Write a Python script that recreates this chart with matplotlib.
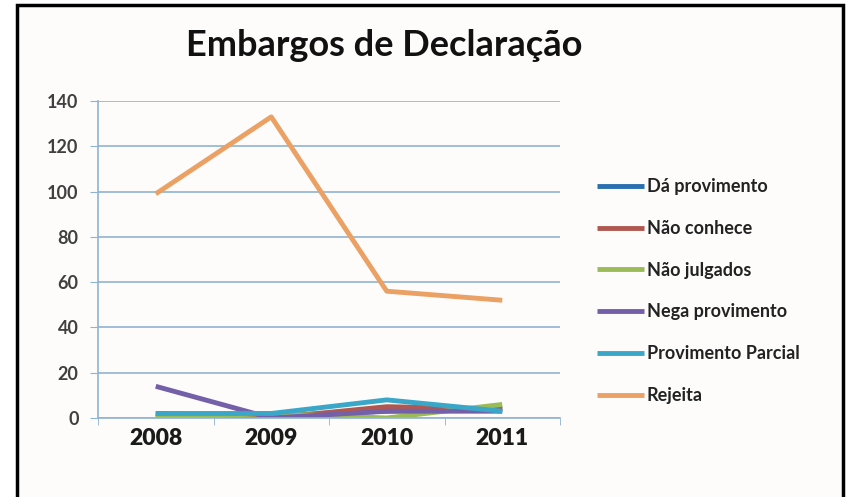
import matplotlib.pyplot as plt
from matplotlib.patches import Rectangle

# dados
anos = ["2008", "2009", "2010", "2011"]
series = ["Dá provimento", "Não conhece", "Não julgados",
          "Nega provimento", "Provimento Parcial", "Rejeita"]
da_provimento = [2, 1, 3, 4]
nao_conhece = [1, 0, 5, 4]
nao_julgados = [0, 2, 0, 6]
nega_provimento = [14, 0, 3, 3]
provimento_parcial = [2, 2, 8, 3]
rejeita = [99, 133, 56, 52]
cores = ["#2a6fb0", "#b0584f", "#9bbb59", "#7460a8", "#3aa6c8", "#eba064"]

plt.rcParams['font.family'] = ['Lato', 'DejaVu Sans']

fig = plt.figure(figsize=(8.54, 4.97), dpi=100)
fig.patch.set_facecolor("white")

# moldura preta
moldura = Rectangle((17 / 854, -0.05), (843 - 17) / 854, 1.05 - 5 / 497,
                    transform=fig.transFigure, facecolor="#fdfcfb",
                    edgecolor="black", linewidth=2.5, zorder=-10)
fig.patches.append(moldura)

ax = fig.add_axes([98 / 854, 1 - 418 / 497, (560 - 98) / 854, (418 - 101) / 497])
ax.set_facecolor("none")

x = range(len(anos))
valores = [da_provimento, nao_conhece, nao_julgados,
           nega_provimento, provimento_parcial, rejeita]
for nome, v, c in zip(series, valores, cores):
    ax.plot(x, v, color=c, linewidth=3.5, label=nome, solid_capstyle="butt")

ax.set_xlim(-0.5, 3.5)
ax.set_ylim(0, 140)
ax.set_yticks(range(0, 141, 20))
ax.set_xticks(list(x))
ax.set_xticklabels(anos, fontsize=16.5, fontweight="heavy", color="#1a1a1a")
ax.set_xticks([-0.5, 0.5, 1.5, 2.5, 3.5], minor=True)
ax.tick_params(axis="x", which="major", length=0, pad=7)
ax.tick_params(axis="x", which="minor", length=5, color="#8fb3d0", direction="out")
ax.tick_params(axis="y", length=6, color="#8fb3d0", labelsize=13,
               labelcolor="#404040", pad=8)
for lbl in ax.get_yticklabels():
    lbl.set_fontweight("bold")

ax.grid(axis="y", color="#8fb3d0", linewidth=1.2)
ax.set_axisbelow(True)
for s in ["top", "right"]:
    ax.spines[s].set_visible(False)
ax.spines["left"].set_color("#8fb3d0")
ax.spines["bottom"].set_color("#8fb3d0")
ax.spines["left"].set_linewidth(1.2)
ax.spines["bottom"].set_linewidth(1.2)

fig.text(384 / 854, 1 - 45 / 497, "Embargos de Declaração", ha="center",
         va="center", fontsize=26, fontweight="bold", color="#111111")

leg = ax.legend(loc="upper left", bbox_to_anchor=(590 / 854, 1 - 171 / 497),
                bbox_transform=fig.transFigure, frameon=False,
                fontsize=13, handlelength=2.6, handletextpad=0.15,
                labelspacing=1.37, borderaxespad=0)
for t in leg.get_texts():
    t.set_fontweight("bold")
    t.set_color("#222222")

fig.savefig("out.png", dpi=100)
